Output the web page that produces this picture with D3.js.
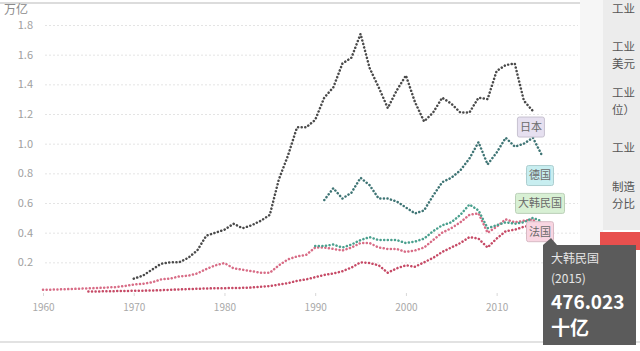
<!DOCTYPE html>
<html lang="zh">
    <head>
        <meta charset="utf-8">
        <title>制造业增加值</title>
        <script src="https://d3js.org/d3.v7.min.js"></script>
        <style type="text/css">
          body { margin: 0; background: #fff; }
          svg { width: 640px; height: 351px; display: block; }
          .tick text { font-family: "Noto Sans CJK SC", sans-serif; }
          .side { font-family: "Noto Sans CJK SC", sans-serif; font-size: 11.5px; fill: #555; }
        </style>
    </head>
    <body>
        <svg></svg>
        <script type="text/javascript">

        // years and values (trillions of US$)
        const japanYears = d3.range(1970, 2015);
        const japanValues = [0.09, 0.11, 0.15, 0.19, 0.20, 0.20, 0.23, 0.28, 0.38, 0.40,
                             0.42, 0.46, 0.43, 0.45, 0.48, 0.52, 0.76, 0.92, 1.11, 1.11,
                             1.16, 1.31, 1.38, 1.54, 1.58, 1.74, 1.51, 1.38, 1.24, 1.36,
                             1.46, 1.28, 1.15, 1.21, 1.31, 1.27, 1.21, 1.21, 1.31, 1.30,
                             1.49, 1.53, 1.54, 1.29, 1.22];

        const germanyYears = d3.range(1991, 2016);
        const germanyValues = [0.62, 0.70, 0.63, 0.67, 0.77, 0.72, 0.63, 0.63, 0.61, 0.57,
                               0.53, 0.55, 0.65, 0.74, 0.77, 0.82, 0.90, 1.01, 0.86, 0.94,
                               1.04, 0.98, 1.00, 1.04, 0.92];

        const koreaYears = d3.range(1990, 2016);
        const koreaValues = [0.31, 0.31, 0.32, 0.30, 0.32, 0.35, 0.37, 0.35, 0.35, 0.35,
                             0.33, 0.34, 0.36, 0.41, 0.45, 0.47, 0.52, 0.59, 0.55, 0.43,
                             0.45, 0.47, 0.46, 0.47, 0.50, 0.476023];

        const franceYears = d3.range(1960, 2016);
        const franceValues = [0.015, 0.016, 0.018, 0.020, 0.022, 0.025, 0.027, 0.030, 0.033, 0.040,
                              0.050, 0.055, 0.065, 0.085, 0.090, 0.105, 0.110, 0.125, 0.155, 0.180,
                              0.195, 0.160, 0.150, 0.140, 0.130, 0.130, 0.180, 0.220, 0.240, 0.250,
                              0.300, 0.300, 0.290, 0.280, 0.300, 0.330, 0.330, 0.300, 0.290, 0.290,
                              0.270, 0.280, 0.300, 0.350, 0.400, 0.430, 0.470, 0.520, 0.530, 0.400,
                              0.440, 0.490, 0.470, 0.480, 0.490, 0.420];

        const otherYears = d3.range(1965, 2016);
        const otherValues = [0.003, 0.004, 0.005, 0.006, 0.007, 0.008, 0.009, 0.010, 0.012, 0.015,
                             0.017, 0.020, 0.022, 0.024, 0.025, 0.026, 0.027, 0.028, 0.030, 0.035,
                             0.040, 0.050, 0.060, 0.075, 0.085, 0.100, 0.115, 0.125, 0.140, 0.165,
                             0.200, 0.195, 0.180, 0.130, 0.160, 0.180, 0.170, 0.200, 0.230, 0.270,
                             0.300, 0.330, 0.370, 0.360, 0.300, 0.360, 0.410, 0.420, 0.440, 0.450,
                             0.476];

        const yTicks = [0.2, 0.4, 0.6, 0.8, 1.0, 1.2, 1.4, 1.6, 1.8];
        const xTicks = [1960, 1970, 1980, 1990, 2000, 2010];
        const sideItems = [["工业"], ["工业", "美元"], ["工业", "位）"], ["工业"], ["制造", "分比"]];

        const series = [
          {name: "其他", years: otherYears, values: otherValues, color: "#c64a66"},
          {name: "法国", years: franceYears, values: franceValues, color: "#d86c86", box: "#f9d6e2", dy: 2},
          {name: "大韩民国", years: koreaYears, values: koreaValues, color: "#4aa08e", box: "#d8f0d4", dy: -18},
          {name: "德国", years: germanyYears, values: germanyValues, color: "#3e7474", box: "#c8eef0", dy: 20},
          {name: "日本", years: japanYears, values: japanValues, color: "#4a4a4a", box: "#e6e0f0", dy: 16}
        ];

        const svg = d3.select("svg");

        const x = d3.scaleLinear().domain([1960, 2015]).range([43, 542]);
        const y = d3.scaleLinear().domain([0, 1.8]).range([292, 25]);

        // frame lines
        svg.append("line").attr("x1", 0).attr("x2", 580).attr("y1", 3).attr("y2", 3)
           .attr("stroke", "#dcdcdc").attr("stroke-width", 2);
        svg.append("line").attr("x1", 0).attr("x2", 640).attr("y1", 342).attr("y2", 342)
           .attr("stroke", "#e2e2e2").attr("stroke-width", 2);

        // unit
        svg.append("text").attr("x", 4).attr("y", 14)
           .attr("font-family", "Noto Sans CJK SC, sans-serif").attr("font-size", 12)
           .attr("fill", "#8a8a8a").text("万亿");

        // y axis with gridlines
        const yAxis = svg.append("g")
           .attr("transform", "translate(45,0)")
           .call(d3.axisLeft(y).tickValues(yTicks).tickSize(-533).tickFormat(d3.format(".1f")).tickPadding(12));
        yAxis.select(".domain").remove();
        yAxis.selectAll(".tick line").attr("stroke", "#e4e4e4").attr("stroke-dasharray", "2,2");
        yAxis.selectAll(".tick text").attr("fill", "#a0a0a0").attr("font-size", 11);

        // x axis
        const xAxis = svg.append("g")
           .attr("transform", "translate(0,293)")
           .call(d3.axisBottom(x).tickValues(xTicks).tickFormat(d3.format("d")).tickSize(3).tickPadding(8));
        xAxis.select(".domain").remove();
        xAxis.selectAll(".tick line").attr("stroke", "#d8d8d8");
        xAxis.selectAll(".tick text").attr("fill", "#a8a8a8").attr("font-size", 10);

        // lines
        const line = d3.line().x(d => x(d[0])).y(d => y(d[1]));
        series.forEach(s => {
          svg.append("path")
             .attr("d", line(d3.zip(s.years, s.values)))
             .attr("fill", "none")
             .attr("stroke", s.color)
             .attr("stroke-width", 2.5)
             .attr("stroke-linecap", "round")
             .attr("stroke-dasharray", "0.1,3.5");
        });

        // end labels
        series.filter(s => s.box).forEach(s => {
          const lx = x(d3.max(s.years)) - 2;
          const ly = y(s.values[s.values.length - 1]) + s.dy;
          const g = svg.append("g").attr("transform", "translate(" + [lx, ly] + ")");
          g.append("text").attr("text-anchor", "middle").attr("dy", "0.35em")
             .attr("font-family", "Noto Sans CJK SC, sans-serif").attr("font-size", 11)
             .attr("fill", "#6a6a6a").text(s.name);
          const w = s.name.length * 11 + 5;
          g.insert("rect", "text").attr("x", -w / 2).attr("y", -10).attr("width", w).attr("height", 20)
             .attr("rx", 2).attr("fill", s.box).attr("stroke", d3.color(s.box).darker(0.4));
        });

        // side panel
        svg.append("rect").attr("x", 580).attr("y", 0).attr("width", 23).attr("height", 342).attr("fill", "#f6f6f6");
        svg.append("rect").attr("x", 603).attr("y", 0).attr("width", 37).attr("height", 230).attr("fill", "#ececec");
        const sideY = [13, 51, 97, 152, 191];
        sideItems.forEach((item, i) => {
          item.forEach((t, j) => {
            svg.append("text").attr("class", "side").attr("x", 612).attr("y", sideY[i] + j * 17).text(t);
          });
        });
        svg.append("rect").attr("x", 600).attr("y", 232).attr("width", 40).attr("height", 18).attr("fill", "#e8504e");

        // tooltip for 大韩民国 2015
        const last = koreaValues[koreaValues.length - 1];
        const tip = svg.append("g").attr("transform", "translate(543,245)");
        tip.append("path").attr("d", "M0,0 L8,-7 L14,0 Z").attr("fill", "#5b5b5b");
        tip.append("rect").attr("width", 93).attr("height", 100).attr("fill", "#5b5b5b");
        tip.append("text").attr("x", 8).attr("y", 18).attr("fill", "#e6e6e6").attr("font-size", 12)
           .attr("font-family", "Noto Sans CJK SC, sans-serif").text("大韩民国");
        tip.append("text").attr("x", 8).attr("y", 38).attr("fill", "#e6e6e6").attr("font-size", 12)
           .attr("font-family", "Noto Sans CJK SC, sans-serif").text("(2015)");
        tip.append("text").attr("x", 8).attr("y", 64).attr("fill", "#fff").attr("font-size", 19).attr("font-weight", "bold")
           .attr("font-family", "Noto Sans CJK SC, sans-serif").text(d3.format(".3f")(last * 1000));
        tip.append("text").attr("x", 8).attr("y", 90).attr("fill", "#fff").attr("font-size", 19).attr("font-weight", "bold")
           .attr("font-family", "Noto Sans CJK SC, sans-serif").text("十亿");
        </script>
    </body>
</html>
